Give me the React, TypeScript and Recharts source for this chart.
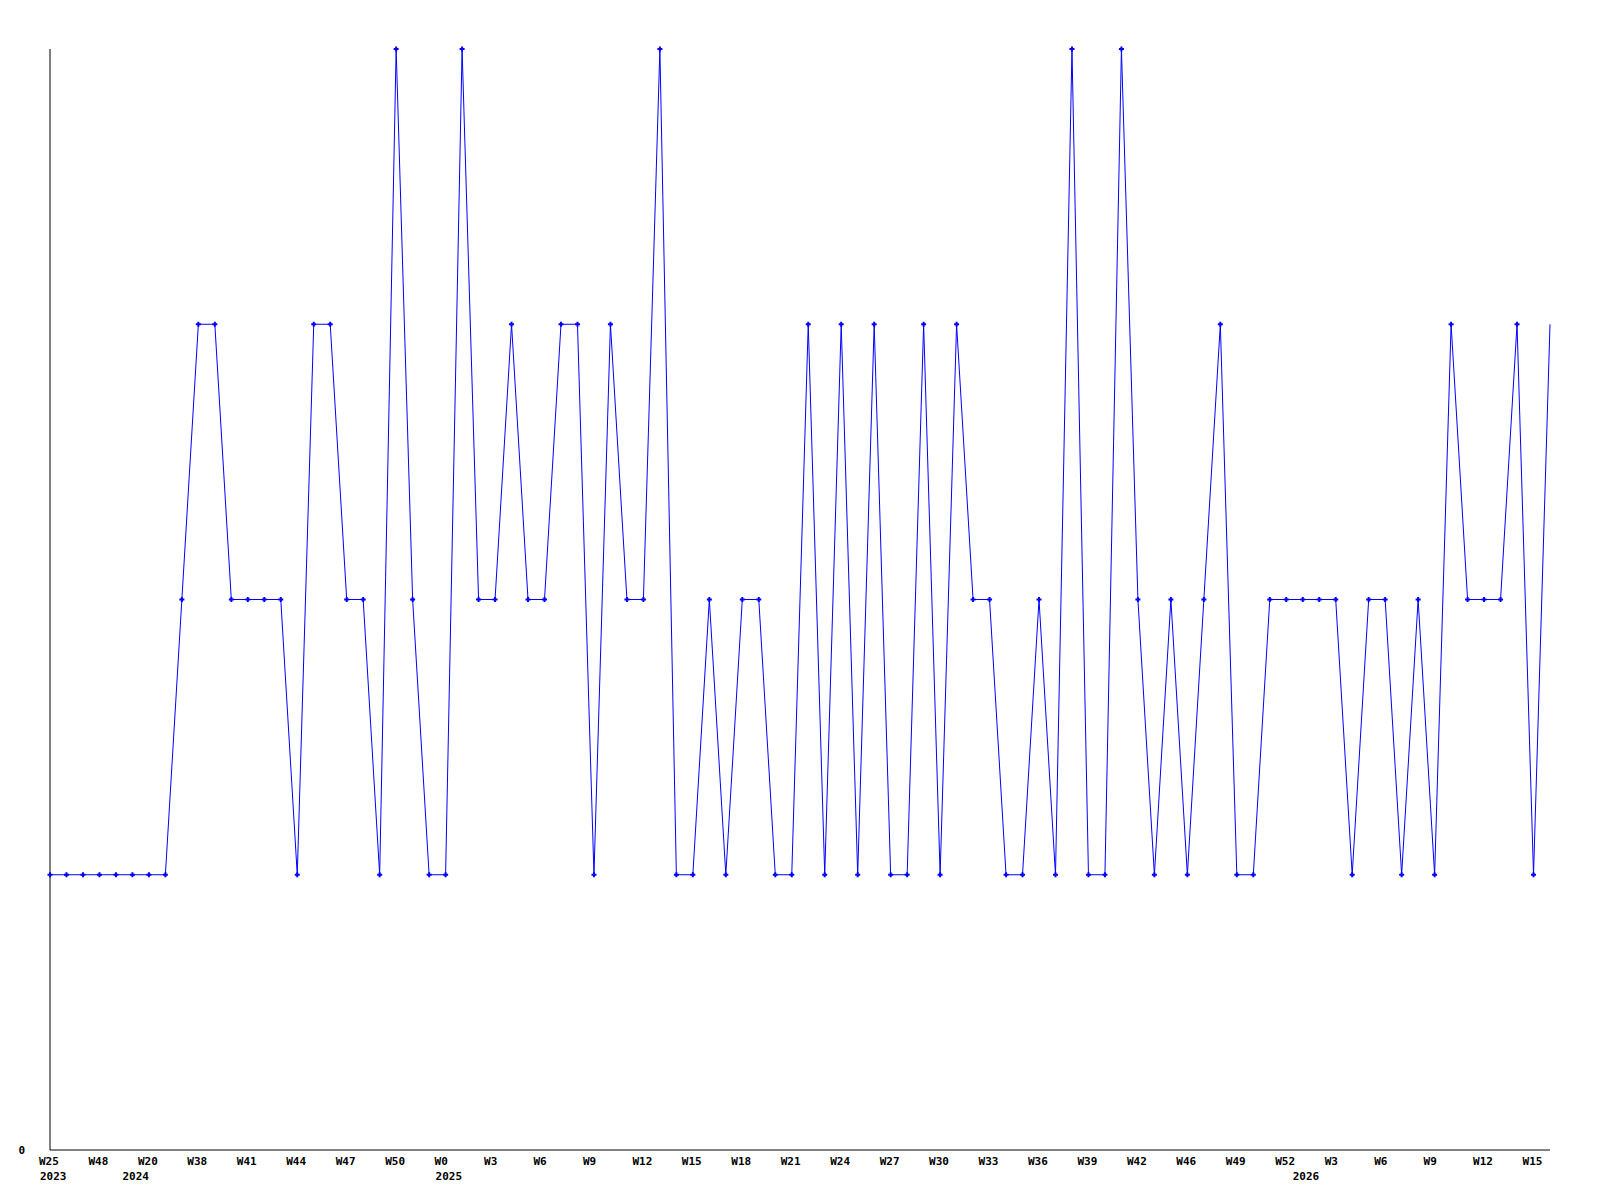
import React from 'react';
import { LineChart, Line, XAxis, YAxis } from 'recharts';

const weekLabels = [
  'W25','W29','W40','W48','W50','W19','W20','W22','W30','W38',
  'W39','W40','W41','W42','W43','W44','W45','W46','W47','W48',
  'W49','W50','W51','W52','W0','W1','W2','W3','W4','W5',
  'W6','W7','W8','W9','W10','W11','W12','W13','W14','W15',
  'W16','W17','W18','W19','W20','W21','W22','W23','W24','W25',
  'W26','W27','W28','W29','W30','W31','W32','W33','W34','W35',
  'W36','W37','W38','W39','W40','W41','W42','W44','W45','W46',
  'W47','W48','W49','W50','W51','W52','W1','W2','W3','W4',
  'W5','W6','W7','W8','W9','W10','W11','W12','W13','W14',
  'W15','W16',
];

const values = [
  1, 1, 1, 1, 1, 1, 1, 1,
  2, 3, 3, 2, 2, 2, 2, 1,
  3, 3, 2, 2, 1, 4, 2, 1,
  1, 4, 2, 2, 3, 2, 2, 3,
  3, 1, 3, 2, 2, 4, 1, 1,
  2, 1, 2, 2, 1, 1, 3, 1,
  3, 1, 3, 1, 1, 3, 1, 3,
  2, 2, 1, 1, 2, 1, 4, 1,
  1, 4, 2, 1, 2, 1, 2, 3,
  1, 1, 2, 2, 2, 2, 2, 1,
  2, 2, 1, 2, 1, 3, 2, 2,
  2, 3, 1, 3,
];

const yearStarts = [0, 5, 24, 76];
const yearNames = ['2023', '2024', '2025', '2026'];
const yTicks = [0];

const data = weekLabels.map((w, i) => ({ week: w, value: values[i] }));

const FONT = '"DejaVu Sans Mono", "Liberation Mono", monospace';
const BLUE = '#0000ff';

const XTick = (props: any) => {
  const { x, y, index, payload } = props;
  const showWeek = index % 3 === 0;
  const yi = yearStarts.indexOf(index);
  return (
    <g>
      {showWeek && (
        <text x={x} y={y + 15} dx={-11} textAnchor="start" fontFamily={FONT} fontWeight="bold" fontSize={11} fill="#000">
          {payload.value}
        </text>
      )}
      {yi >= 0 && (
        <text x={x} y={y + 30} dx={-10} textAnchor="start" fontFamily={FONT} fontWeight="bold" fontSize={11} fill="#000">
          {yearNames[yi]}
        </text>
      )}
    </g>
  );
};

const YTick = (props: any) => {
  const { y, payload } = props;
  return (
    <text x={25} y={y + 4} textAnchor="end" fontFamily={FONT} fontWeight="bold" fontSize={11} fill="#000">
      {payload.value}
    </text>
  );
};

const Dot = (props: any) => {
  const { cx, cy, index } = props;
  if (index === values.length - 1 || cx == null) return <g key={`d${index}`} />;
  return (
    <g key={`d${index}`}>
      <rect x={cx - 2.5} y={cy - 1} width={5} height={2} fill={BLUE} />
      <rect x={cx - 1} y={cy - 2.5} width={2} height={5} fill={BLUE} />
    </g>
  );
};

export default function App() {
  return (
    <div style={{ position: 'absolute', left: 0, top: 0, width: 1600, height: 1200, background: '#fff' }}>
      <LineChart width={1600} height={1200} data={data} margin={{ top: 49, right: 50, bottom: 0, left: 0 }}>
        <XAxis
          dataKey="week"
          type="category"
          interval={0}
          height={50}
          tickLine={false}
          tickSize={0}
          tickMargin={0}
          axisLine={{ stroke: '#000', strokeWidth: 1 }}
          tick={XTick}
        />
        <YAxis
          type="number"
          domain={[0, 4]}
          ticks={yTicks}
          width={50}
          tickLine={false}
          tickSize={0}
          tickMargin={0}
          axisLine={{ stroke: '#000', strokeWidth: 1 }}
          tick={YTick}
        />
        <Line
          type="linear"
          dataKey="value"
          stroke={BLUE}
          strokeWidth={1}
          dot={Dot}
          activeDot={false}
          isAnimationActive={false}
        />
      </LineChart>
    </div>
  );
}
